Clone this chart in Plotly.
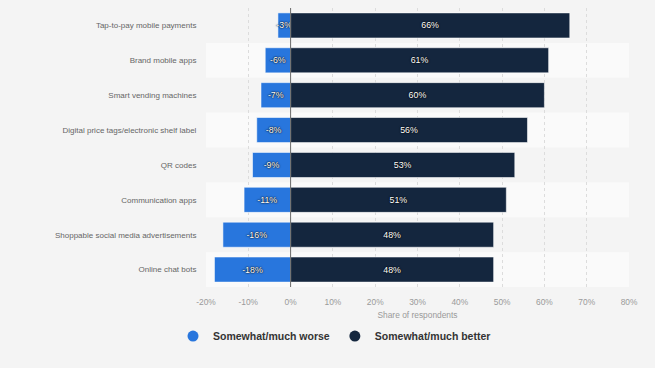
import plotly.graph_objects as go

categories = [
    "Tap-to-pay mobile payments",
    "Brand mobile apps",
    "Smart vending machines",
    "Digital price tags/electronic shelf label",
    "QR codes",
    "Communication apps",
    "Shoppable social media advertisements",
    "Online chat bots",
]
worse = [-3, -6, -7, -8, -9, -11, -16, -18]
better = [66, 61, 60, 56, 53, 51, 48, 48]
series_names = ["Somewhat/much worse", "Somewhat/much better"]
series_colors = ["#2876DD", "#14263E"]
tick_vals = [-20, -10, 0, 10, 20, 30, 40, 50, 60, 70, 80]
tick_text = [f"{v}%" for v in tick_vals]

FONT = "Liberation Sans, Arial, Helvetica, sans-serif"
label_font = dict(family=FONT, size=8.8, color="#ffffff",
                  shadow="0px 0px 2px #000, 0px 0px 1px #000")

fig = go.Figure()
for vals, name, col in zip([worse, better], series_names, series_colors):
    fig.add_trace(go.Bar(
        y=categories, x=vals, orientation="h", name=name, showlegend=False,
        marker=dict(color=col, line=dict(color="rgba(255,255,255,0.55)", width=1)),
        text=[f"{v}%" for v in vals], textposition="inside", insidetextanchor="middle",
        textangle=0, constraintext="none", textfont=label_font, cliponaxis=False,
        hoverinfo="skip",
    ))
# legend entries with round markers
for name, col in zip(series_names, series_colors):
    fig.add_trace(go.Scatter(
        x=[None], y=[None], mode="markers", name=name,
        marker=dict(symbol="circle", size=11, color=col), showlegend=True,
    ))

shapes = []
for i in range(len(categories)):
    shapes.append(dict(
        type="rect", xref="paper", yref="y", x0=0, x1=1, y0=i - 0.5, y1=i + 0.5,
        fillcolor="#f4f4f4" if i % 2 == 0 else "#fafafa", line=dict(width=0), layer="below",
    ))
shapes.append(dict(type="line", xref="x", yref="paper", x0=0, x1=0, y0=0, y1=1,
                   line=dict(color="#6b6b6b", width=1), layer="above"))

fig.update_layout(
    width=655, height=368,
    margin=dict(l=206, r=26, t=8, b=81, autoexpand=False),
    paper_bgcolor="#f4f4f4", plot_bgcolor="#fafafa",
    barmode="relative", bargap=0.28,
    font=dict(family=FONT),
    shapes=shapes,
    showlegend=True,
    legend=dict(orientation="h", x=-0.078, y=-0.176, xanchor="left", yanchor="middle",
                font=dict(family=FONT, size=10.5, color="#333333", weight="bold"),
                itemwidth=30, bgcolor="rgba(0,0,0,0)", traceorder="normal"),
    xaxis=dict(range=[-20, 80], tickvals=tick_vals, ticktext=tick_text,
               showgrid=True, gridcolor="#dcdcdc", griddash="dot", gridwidth=1,
               zeroline=False, showline=False, automargin=False,
               tickfont=dict(family=FONT, size=8.4, color="#9a9a9a"),
               ticks="outside", ticklen=7, tickcolor="rgba(0,0,0,0)",
               title=dict(text="Share of respondents", standoff=6,
                          font=dict(family=FONT, size=8.4, color="#9a9a9a")),
               fixedrange=True),
    yaxis=dict(autorange="reversed", showgrid=False, zeroline=False, showline=False,
               automargin=False,
               tickfont=dict(family=FONT, size=8.0, color="#666666"),
               ticks="outside", ticklen=7, tickcolor="rgba(0,0,0,0)",
               fixedrange=True),
)

fig.write_html(
    "out.html",
    config={"displayModeBar": False},
    post_script="document.body.style.margin='0';document.body.style.background='#f4f4f4';",
)
